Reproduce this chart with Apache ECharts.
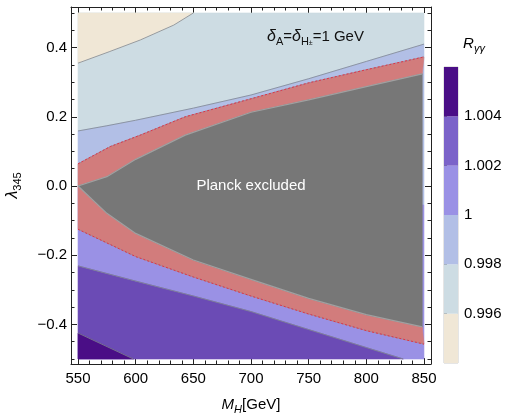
<!DOCTYPE html>
<html>
<head>
<meta charset="utf-8">
<script src="https://cdn.jsdelivr.net/npm/echarts@6/dist/echarts.min.js"></script>
<style>
  html, body { margin: 0; padding: 0; background: #fff; }
  #main { width: 507px; height: 416px; }
</style>
</head>
<body>
<div id="main"></div>
<script>
// contour boundaries, points are [M_H (GeV), lambda_345]
var beigeEdge = [[550, 0.355], [577, 0.388], [604, 0.422], [633, 0.465], [650, 0.5]];
var lavTop = [[550, 0.159], [575, 0.174], [600, 0.19], [650, 0.225], [700, 0.263], [750, 0.31], [800, 0.36], [850, 0.41]];
var redTop = [[550, 0.064], [578, 0.114], [604, 0.147], [643, 0.2], [700, 0.252], [750, 0.298], [800, 0.336], [850, 0.373]];
var grayTop = [[550, 0], [575, 0.027], [600, 0.077], [643, 0.147], [700, 0.213], [750, 0.249], [800, 0.287], [848.5, 0.324]];
var grayBot = [[550, 0], [560, -0.032], [575, -0.079], [600, -0.137], [650, -0.214], [700, -0.27], [750, -0.325], [800, -0.372], [848.5, -0.407]];
var redBot = [[550, -0.125], [600, -0.204], [650, -0.263], [700, -0.318], [750, -0.37], [800, -0.418], [850, -0.457]];
var oneLine = [[550, 0], [850, -0.055]]; // R = 1 contour, mostly hidden
var medTop = [[550, -0.231], [600, -0.275], [650, -0.318], [700, -0.363], [750, -0.415], [800, -0.467], [832, -0.5]];
var darkTop = [[550, -0.425], [598, -0.5]];

var xLo = 550, xHi = 850, yLo = -0.5, yHi = 0.5;

// axis ticks
var xMajor = [550, 600, 650, 700, 750, 800, 850];
var yMajor = [-0.4, -0.2, 0, 0.2, 0.4];
var xMinor = [], yMinor = [];
for (var m = 550; m <= 850; m += 10) if (m % 50) xMinor.push(m);
for (var k = -10; k <= 10; k++) if (k % 4) yMinor.push(k * 0.05);

// colour bar
var barLevels = [0.994, 0.996, 0.998, 1, 1.002, 1.004, 1.006];
var barLabels = [0.996, 0.998, 1, 1.002, 1.004];
var barColors = ['#f0e7d6', '#cddce3', '#b2bfe6', '#9a91e5', '#7b63c9', '#4a0e86'];

var C = {
  beige: '#f0e7d6', lightBlue: '#cddce3', lavender: '#b2bfe6', lightPurple: '#9a91e5',
  medPurple: '#6b4bb5', darkPurple: '#4a0e86', red: '#d27c7c', gray: '#777777'
};
var FONT = '"Liberation Sans", Arial, Helvetica, sans-serif';

function rev(a) { return a.slice().reverse(); }

var regions = [
  { pts: lavTop.concat([[xHi, yHi], [xLo, yHi]]), color: C.lightBlue },
  { pts: beigeEdge.concat([[xLo, yHi]]), color: C.beige },
  { pts: lavTop.concat(rev(oneLine)), color: C.lavender },
  { pts: oneLine.concat([[xHi, yLo]], rev(medTop)), color: C.lightPurple },
  { pts: medTop.concat([[xLo, yLo]]), color: C.medPurple },
  { pts: darkTop.concat([[xLo, yLo]]), color: C.darkPurple },
  { pts: redTop.concat(rev(grayTop)), color: C.red },
  { pts: grayBot.concat(rev(redBot)), color: C.red },
  { pts: grayTop.concat(rev(grayBot)), color: C.gray }
];

var series = [];
regions.forEach(function (r) {
  series.push({
    type: 'custom',
    xAxisIndex: 0,
    yAxisIndex: 0,
    silent: true,
    clip: true,
    data: r.pts,
    renderItem: function (params, api) {
      if (params.dataIndex !== 0) return;
      var pts = r.pts.map(function (p) { return api.coord(p); });
      return {
        type: 'polygon',
        shape: { points: pts },
        style: { fill: r.color, stroke: r.color, lineWidth: 0.6 }
      };
    }
  });
});

function edge(data, color, width, type) {
  return {
    type: 'line', xAxisIndex: 0, yAxisIndex: 0, data: data, showSymbol: false,
    silent: true, clip: true, z: 3,
    lineStyle: { color: color, width: width, type: type || 'solid' }
  };
}
[beigeEdge, lavTop, medTop, darkTop].forEach(function (d) {
  series.push(edge(d, '#7f8790', 0.8));
});
[grayTop, grayBot].forEach(function (d) {
  series.push(edge(d, '#a0a0a0', 1.2));
});
[redTop, redBot].forEach(function (d) {
  series.push(edge(d, '#9a8a9a', 0.8));
  series.push(edge(d, '#e8283c', 0.9, [2, 2]));
});

// colour bar bands
series.push({
  type: 'custom',
  xAxisIndex: 4,
  yAxisIndex: 4,
  silent: true,
  data: barColors.map(function (c, i) { return [barLevels[i], barLevels[i + 1], i]; }),
  renderItem: function (params, api) {
    var p1 = api.coord([0, api.value(1)]);
    var p2 = api.coord([1, api.value(0)]);
    return {
      type: 'rect',
      shape: { x: p1[0], y: p1[1], width: p2[0] - p1[0], height: p2[1] - p1[1] },
      style: { fill: barColors[api.value(2)] }
    };
  }
});

var frame = { show: true, onZero: false, lineStyle: { color: '#222', width: 1 } };
var noLine = { show: false, onZero: false };
var tickMajor = function (vals) {
  return { show: true, inside: true, length: 6, customValues: vals, lineStyle: { color: '#222', width: 1 } };
};
var tickMinor = function (vals) {
  return { show: true, inside: true, length: 3.5, customValues: vals, lineStyle: { color: '#222', width: 1 } };
};
var labelStyle = { color: '#000', fontFamily: FONT, fontSize: 15 };

function xAx(pos, line, tick, label, extra) {
  var a = {
    type: 'value', gridIndex: 0, position: pos, min: 543.9, max: 856.1,
    axisLine: line, axisTick: tick, splitLine: { show: false },
    axisLabel: label || { show: false }
  };
  return Object.assign(a, extra || {});
}
function yAx(pos, line, tick, label, extra) {
  var a = {
    type: 'value', gridIndex: 0, position: pos, min: -0.5145, max: 0.5173,
    axisLine: line, axisTick: tick, splitLine: { show: false },
    axisLabel: label || { show: false }
  };
  return Object.assign(a, extra || {});
}

var option = {
  animation: false,
  backgroundColor: '#fff',
  grid: [
    { left: 71, top: 7, width: 360, height: 357, containLabel: false, outerBoundsMode: 'none' },
    {
      left: 444, top: 67, width: 14, height: 296, containLabel: false, outerBoundsMode: 'none',
      show: true, borderColor: '#a8a8a8', borderWidth: 0.6, backgroundColor: 'transparent'
    }
  ],
  xAxis: [
    xAx('bottom', frame, tickMajor(xMajor),
      Object.assign({ show: true, customValues: xMajor, margin: 7 }, labelStyle),
      {
        name: '{i|M}{si|H}{n|[GeV]}',
        nameLocation: 'middle',
        nameGap: 31,
        nameMoveOverlap: false,
        nameTextStyle: {
          color: '#000', fontFamily: FONT, fontSize: 15,
          rich: {
            i: { fontStyle: 'italic', fontSize: 15, fontFamily: FONT, color: '#000', lineHeight: 20 },
            si: { fontStyle: 'italic', fontSize: 11, fontFamily: FONT, color: '#000', lineHeight: 11, verticalAlign: 'bottom' },
            n: { fontSize: 15, fontFamily: FONT, color: '#000', lineHeight: 20 }
          }
        }
      }),
    xAx('bottom', noLine, tickMinor(xMinor)),
    xAx('top', frame, tickMajor(xMajor)),
    xAx('top', noLine, tickMinor(xMinor)),
    { type: 'value', gridIndex: 1, min: 0, max: 1, show: false }
  ],
  yAxis: [
    yAx('left', frame, tickMajor(yMajor),
      Object.assign({
        show: true, customValues: yMajor, margin: 4,
        formatter: function (v) {
          return Math.abs(v) < 1e-9 ? '0.0' : v.toFixed(1).replace('-', '\u2212');
        }
      }, labelStyle),
      {
        name: '{i|\u03bb}{s|345}',
        nameLocation: 'middle',
        nameRotate: 90,
        nameGap: 48,
        nameMoveOverlap: false,
        nameTextStyle: {
          color: '#000', fontFamily: FONT, fontSize: 15,
          rich: {
            i: { fontStyle: 'italic', fontSize: 16, fontFamily: FONT, color: '#000', lineHeight: 20 },
            s: { fontSize: 11, fontFamily: FONT, color: '#000', lineHeight: 11, verticalAlign: 'bottom' }
          }
        }
      }),
    yAx('left', noLine, tickMinor(yMinor)),
    yAx('right', frame, tickMajor(yMajor)),
    yAx('right', noLine, tickMinor(yMinor)),
    {
      type: 'value', gridIndex: 1, position: 'right', min: 0.994, max: 1.006,
      axisLine: { show: false },
      splitLine: { show: false },
      axisTick: { show: true, inside: false, length: 3, customValues: barLabels, lineStyle: { color: '#555' } },
      axisLabel: Object.assign({
        show: true, customValues: barLabels, margin: 6,
        formatter: function (v) { return Math.abs(v - 1) < 1e-9 ? '1' : v.toFixed(3); }
      }, labelStyle)
    }
  ],
  graphic: [
    {
      type: 'text', x: 251, y: 186, z: 100,
      style: { text: 'Planck excluded', fill: '#fff', fontFamily: FONT, fontSize: 15, align: 'center', verticalAlign: 'middle' }
    },
    {
      type: 'text', x: 267, y: 37, z: 100,
      style: {
        text: '{d|\u03b4}{s|A}{n|=}{d|\u03b4}{s|H}{p|\u00b1}{n|=1 GeV}',
        align: 'left', verticalAlign: 'middle', fontFamily: FONT, fontSize: 15, fill: '#111',
        rich: {
          d: { fontStyle: 'italic', fontSize: 16, fontFamily: FONT, fill: '#111', lineHeight: 20 },
          n: { fontSize: 15, fontFamily: FONT, fill: '#111', lineHeight: 20 },
          s: { fontSize: 11, fontFamily: FONT, fill: '#111', lineHeight: 11, verticalAlign: 'bottom' },
          p: { fontSize: 7, fontFamily: FONT, fill: '#111', lineHeight: 14, verticalAlign: 'bottom' }
        }
      }
    },
    {
      type: 'text', x: 474, y: 44, z: 100,
      style: {
        text: '{i|R}{s|\u03b3\u03b3}',
        align: 'center', verticalAlign: 'middle', fontFamily: FONT, fontSize: 15, fill: '#000',
        rich: {
          i: { fontStyle: 'italic', fontSize: 15, fontFamily: FONT, fill: '#000', lineHeight: 20 },
          s: { fontStyle: 'italic', fontSize: 11, fontFamily: FONT, fill: '#000', lineHeight: 11, verticalAlign: 'bottom' }
        }
      }
    }
  ],
  series: series
};

var chart = echarts.init(document.getElementById('main'));
chart.setOption(option);
</script>
</body>
</html>
